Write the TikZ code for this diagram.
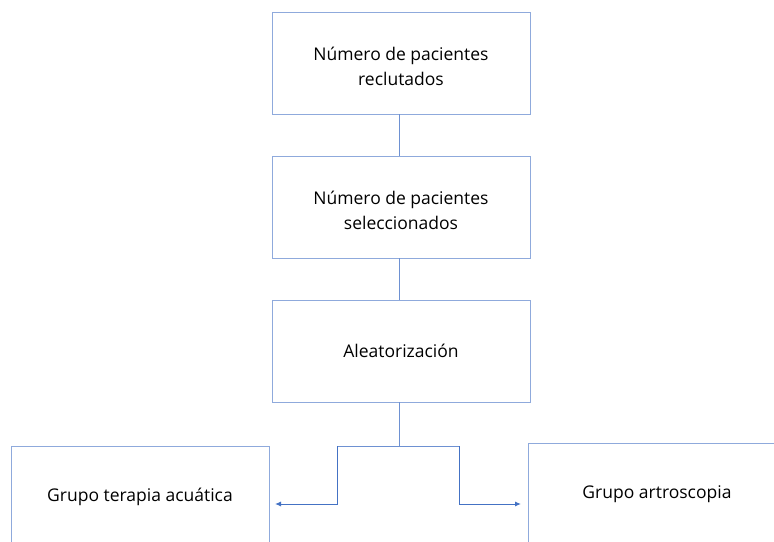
\documentclass[tikz,border=0pt]{standalone}
\usepackage{fontspec}
\setmainfont{Open Sans}
\usetikzlibrary{arrows.meta}
\definecolor{boxblue}{RGB}{143,170,220}
\definecolor{midblue}{RGB}{110,145,210}
\definecolor{linkblue}{RGB}{68,114,196}
\begin{document}
\begin{tikzpicture}[x=1pt,y=-1pt,
  boxstyle/.style={draw=boxblue,line width=1pt,minimum width=258pt,minimum height=102pt,
    align=center,font=\fontsize{17.5}{25}\selectfont,inner sep=0pt},
  lower/.style={text height=45pt},
  link/.style={draw=midblue,line width=1pt},
  arr/.style={draw=linkblue,line width=1pt,-{Latex[length=6pt,width=5pt]}}]
\clip (0,0) rectangle (774,541);
\fill[white] (0,0) rectangle (774,541);
\node[boxstyle,lower] (b1) at (401,63) {Número de pacientes\\reclutados};
\node[boxstyle,lower] (b2) at (401,207) {Número de pacientes\\seleccionados};
\node[boxstyle] (b3) at (401,351) {Aleatorización};
\node[boxstyle] (gl) at (140,497) {Grupo terapia acuática};
\node[boxstyle] (gr) at (657,494) {Grupo artroscopia};
\coordinate (t1) at (399,114);
\coordinate (t2) at (399,156);
\coordinate (t3) at (399,258);
\coordinate (t4) at (399,300);
\coordinate (t5) at (399,402);
\coordinate (j) at (399,446);
\coordinate (jl) at (337,446);
\coordinate (jr) at (459,446);
\coordinate (al) at (275,504);
\coordinate (ar) at (521,504);
\draw[link] (t1) -- (t2);
\draw[link] (t3) -- (t4);
\draw[link] (t5) -- (j);
\draw[link] (jl) -- (jr);
\draw[arr] (jl) |- (al);
\draw[arr] (jr) |- (ar);
\end{tikzpicture}
\end{document}
